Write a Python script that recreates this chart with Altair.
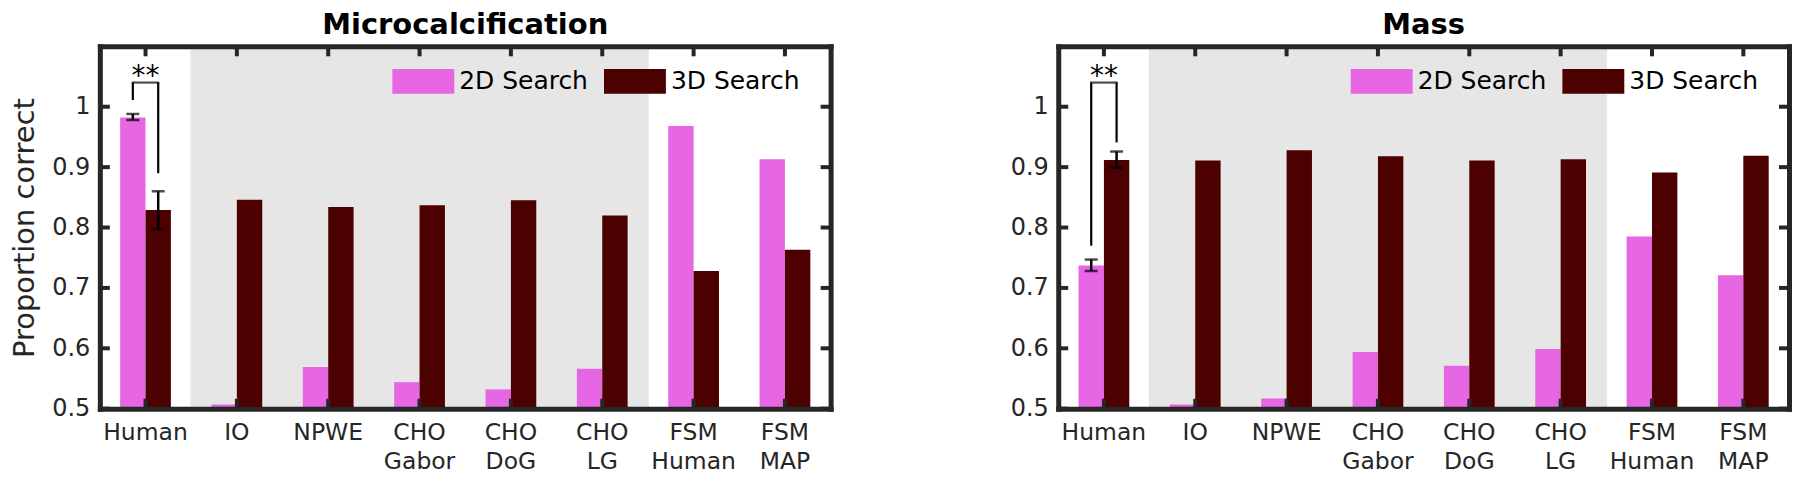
import altair as alt
import pandas as pd

# ---------------- data ----------------
categories = ["Human", "IO", "NPWE", "CHO Gabor", "CHO DoG", "CHO LG", "FSM Human", "FSM MAP"]
series = ["2D Search", "3D Search"]
shaded = ["IO", "NPWE", "CHO Gabor", "CHO DoG", "CHO LG"]
y_ticks = [0.5, 0.6, 0.7, 0.8, 0.9, 1.0]

micro_2d = [0.982, 0.507, 0.569, 0.544, 0.532, 0.566, 0.968, 0.913]
micro_3d = [0.829, 0.846, 0.834, 0.837, 0.845, 0.820, 0.728, 0.763]
mass_2d = [0.737, 0.507, 0.517, 0.594, 0.571, 0.599, 0.785, 0.721]
mass_3d = [0.912, 0.911, 0.928, 0.918, 0.911, 0.913, 0.891, 0.919]

# error bars (Human only): low, high for 2D and 3D
micro_err_lo = [0.978, 0.797]
micro_err_hi = [0.988, 0.860]
mass_err_lo = [0.728, 0.899]
mass_err_hi = [0.747, 0.926]

# significance bracket: leg start values (2D leg, 3D leg) and top level
micro_leg_start = [1.011, 0.890]
mass_leg_start = [0.770, 0.941]
bracket_top = 1.04
sig_label = "**"

# ---------------- style ----------------
PINK = "#E666E3"
DARK = "#4C0000"
SHADE = "#E6E6E6"
FRAME = "#262626"
FONT = "DejaVu Sans"
W, H = 732, 363
YDOM = [0.5, 1.1]
TICKLEN = 10


def xenc(axis=None):
    return alt.X("cat:N", sort=categories,
                 scale=alt.Scale(domain=categories, paddingInner=0, paddingOuter=0),
                 axis=axis)


def xoff():
    return alt.XOffset("series:N", sort=series,
                       scale=alt.Scale(domain=series, paddingInner=0, paddingOuter=0.8))


def yenc(field, axis=None):
    return alt.Y(f"{field}:Q", scale=alt.Scale(domain=YDOM, nice=False, zero=False), axis=axis)


def frame_axis(orient):
    return alt.Axis(orient=orient, labels=False, ticks=False, grid=False, title=None,
                    domain=True, domainColor=FRAME, domainWidth=5, domainCap="square", zindex=1)


def panel(title, v2d, v3d, elo, ehi, legs, show_ytitle):
    bars_df = pd.DataFrame({
        "cat": categories * 2,
        "series": [series[0]] * len(categories) + [series[1]] * len(categories),
        "value": list(v2d) + list(v3d),
    })
    err_df = pd.DataFrame({"cat": ["Human", "Human"], "series": series, "lo": elo, "hi": ehi})
    leg_df = pd.DataFrame({"cat": ["Human", "Human"], "series": series,
                           "start": legs, "top": [bracket_top, bracket_top]})
    top_df = pd.DataFrame({"cat": ["Human"], "y": [bracket_top], "label": [sig_label]})
    shade_df = pd.DataFrame({"cat": shaded})
    cat_df = pd.DataFrame({"cat": categories})
    yt_df = pd.DataFrame({"t": y_ticks})

    shade = alt.Chart(shade_df).mark_rect(color=SHADE, stroke=SHADE, strokeWidth=1.5).encode(
        x=xenc(),
        y=alt.YDatum(YDOM[0], scale=alt.Scale(domain=YDOM, nice=False, zero=False), axis=None),
        y2=alt.Y2Datum(YDOM[1]),
    )

    bottom_axis = alt.Axis(orient="bottom", labelExpr="split(datum.label, ' ')",
                           labelFont=FONT, labelFontSize=23.5, labelColor=FRAME,
                           labelPadding=12, labelLineHeight=29, labelAngle=0,
                           labelBaseline="top", ticks=False, grid=False, title=None,
                           domain=True, domainColor=FRAME, domainWidth=5, domainCap="square",
                           zindex=1)
    left_axis = alt.Axis(orient="left", values=y_ticks, format="~g", labelFont=FONT,
                         labelFontSize=24, labelColor=FRAME, labelPadding=10, ticks=False,
                         grid=False, title="Proportion correct" if show_ytitle else None,
                         titleFont=FONT, titleFontSize=29, titleFontWeight="normal",
                         titleColor=FRAME, titlePadding=12,
                         domain=True, domainColor=FRAME, domainWidth=5, domainCap="square",
                         zindex=1)

    bars = alt.Chart(bars_df).mark_bar().encode(
        x=xenc(bottom_axis),
        xOffset=xoff(),
        y=yenc("value", left_axis),
        y2=alt.Y2Datum(YDOM[0]),
        color=alt.Color("series:N", sort=series,
                        scale=alt.Scale(domain=series, range=[PINK, DARK]),
                        legend=alt.Legend(orient="none", legendX=293, legendY=4,
                                          direction="horizontal", title=None,
                                          symbolType="M-1,-0.4H1V0.4H-1Z", symbolSize=3844,
                                          symbolStrokeWidth=0, symbolOpacity=1,
                                          labelFont=FONT, labelFontSize=25, labelColor="black",
                                          labelOffset=5, columnPadding=16, padding=0)),
    )

    err_rule = alt.Chart(err_df).mark_rule(color="black", strokeWidth=2.5).encode(
        x=xenc(), xOffset=xoff(), y=yenc("lo"), y2="hi:Q")
    cap_lo = alt.Chart(err_df).mark_tick(color="black", thickness=2.5, size=13,
                                         orient="horizontal").encode(
        x=xenc(), xOffset=xoff(), y=yenc("lo"))
    cap_hi = alt.Chart(err_df).mark_tick(color="black", thickness=2.5, size=13,
                                         orient="horizontal").encode(
        x=xenc(), xOffset=xoff(), y=yenc("hi"))

    legs_rule = alt.Chart(leg_df).mark_rule(color="black", strokeWidth=2.2).encode(
        x=xenc(), xOffset=xoff(), y=yenc("start"), y2="top:Q")
    top_rule = alt.Chart(top_df).mark_tick(color="black", thickness=2.2, size=27.6,
                                           orient="horizontal").encode(
        x=xenc(), y=yenc("y"))
    stars = alt.Chart(top_df).mark_text(font=FONT, fontSize=28, color="black",
                                        baseline="alphabetic", dy=2).encode(
        x=xenc(), y=yenc("y"), text="label:N")

    t_bottom = alt.Chart(cat_df).mark_rule(color=FRAME, strokeWidth=4).encode(
        x=xenc(), y=alt.value(H), y2=alt.value(H - TICKLEN))
    t_top = alt.Chart(cat_df).mark_rule(color=FRAME, strokeWidth=4).encode(
        x=xenc(frame_axis("top")), y=alt.value(0), y2=alt.value(TICKLEN))
    t_left = alt.Chart(yt_df).mark_rule(color=FRAME, strokeWidth=4).encode(
        y=yenc("t"), x=alt.value(0), x2=alt.value(TICKLEN))
    t_right = alt.Chart(yt_df).mark_rule(color=FRAME, strokeWidth=4).encode(
        y=yenc("t", frame_axis("right")), x=alt.value(W), x2=alt.value(W - TICKLEN))

    return alt.layer(
        shade, bars, err_rule, cap_lo, cap_hi, legs_rule, top_rule, stars,
        t_bottom, t_top, t_left, t_right,
    ).resolve_axis(x="independent", y="independent").properties(
        width=W, height=H,
        title=alt.TitleParams(title, font=FONT, fontSize=29, fontWeight="bold",
                              anchor="middle", offset=4, color="black"),
    )


left = panel("Microcalcification", micro_2d, micro_3d, micro_err_lo, micro_err_hi,
             micro_leg_start, True)
right = panel("Mass", mass_2d, mass_3d, mass_err_lo, mass_err_hi, mass_leg_start, False)

chart = alt.hconcat(left, right, spacing=176).resolve_legend(color="independent").properties(
    padding={"left": 2, "top": 2, "right": 0, "bottom": 0}
).configure_view(stroke=None).configure(background="white")

chart.save("out.html", embed_options={"renderer": "svg", "actions": False})
